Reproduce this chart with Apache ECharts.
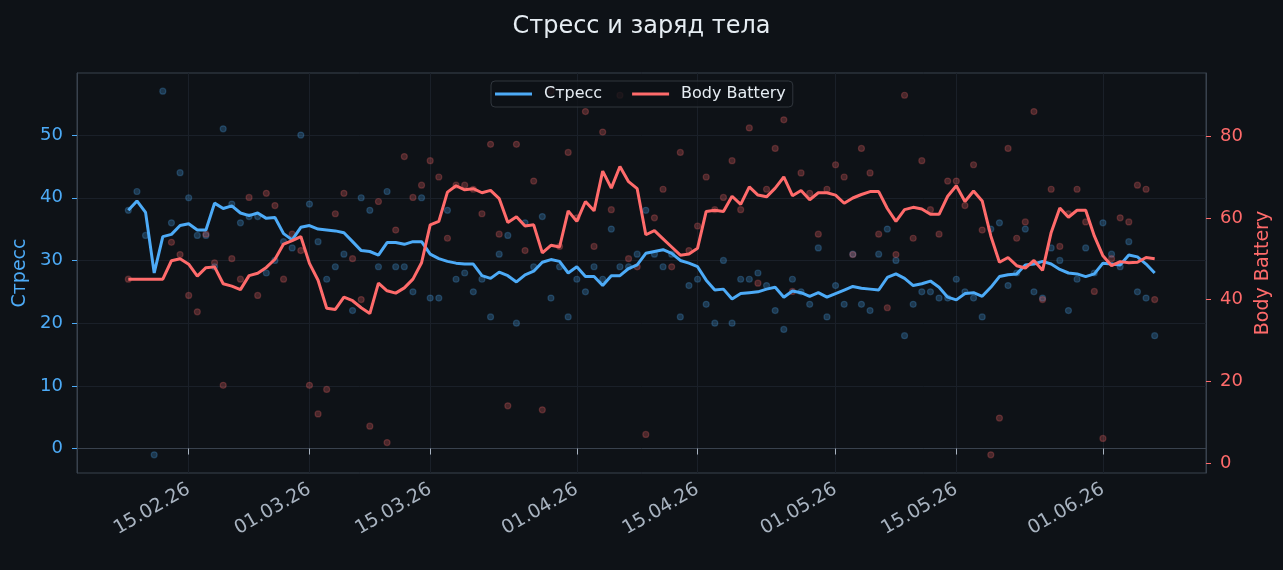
<!DOCTYPE html>
<html>
<head>
<meta charset="utf-8">
<title>Стресс и заряд тела</title>
<script src="https://cdn.jsdelivr.net/npm/echarts@6/dist/echarts.min.js"></script>
<style>
html, body { margin: 0; padding: 0; background: #0e1217; }
#chart { width: 1283px; height: 570px; }
</style>
</head>
<body>
<div id="chart"></div>
<script>
// one value per day, starting at startDate
var startDate = '2026-02-08'
var stress = [
    38, 41, 34, -1, 57, 36, 44, 40, 34, 34,
    29, 51, 39, 36, 37, 37, 28, 30, 33, 32,
    50, 39, 33, 27, 29, 31, 22, 40, 38, 29,
    41, 29, 29, 25, 40, 24, 24, 38, 27, 28,
    25, 27, 21, 31, 34, 20, 36, 29, 37, 24,
    29, 21, 27, 25, 29, 27, 35, 29, 29, 31,
    38, 31, 29, 31, 21, 26, 27, 23, 20, 30,
    20, 27, 27, 28, 26, 22, 19, 27, 25, 23,
    32, 21, 26, 23, 31, 23, 22, 31, 35, 30,
    18, 23, 25, 25, 24, 24, 27, 25, 24, 21,
    35, 36, 26, 28, 35, 25, 24, 32, 30, 22,
    27, 32, 28, 36, 31, 29, 33, 25, 24, 18
]
var bodyBattery = [
    45, null, null, null, null, 54, 51, 41, 37, 56,
    49, 19, 50, 45, 65, 41, 66, 63, 45, 56,
    52, 19, 12, 18, 61, 66, 50, 40, 9, 64,
    5, 57, 75, 65, 68, 74, 70, 55, 68, 68,
    67, 61, 78, 56, 14, 78, 52, 69, 13, 91,
    53, 76, 60, 86, 53, 81, 62, 90, 50, 48,
    7, 60, 67, 48, 76, 52, 58, 70, 62, 65,
    74, 62, 82, 44, 67, 77, 84, 42, 71, 66,
    56, 67, 73, 70, 51, 77, 71, 56, 38, 51,
    90, 55, 74, 62, 56, 69, 69, 63, 73, 57,
    2, 11, 77, 55, 59, 86, 40, 67, 53, 61,
    67, 59, 42, 6, 50, 60, 59, 68, 67, 40
]
var tickDates = ['2026-02-15', '2026-03-01', '2026-03-15', '2026-04-01', '2026-04-15', '2026-05-01', '2026-05-15', '2026-06-01']
var stressTicks = [0, 10, 20, 30, 40, 50]
var batteryTicks = [0, 20, 40, 60, 80]

var DAY = 86400000
var t0 = Date.parse(startDate + 'T00:00:00Z')
var tickTs = tickDates.map(function (d) { return Date.parse(d + 'T00:00:00Z') })

// 7-day rolling mean (min 1 value), like the smoothed lines in the picture
function rolling7(arr) {
    return arr.map(function (v, i) {
        var s = 0, n = 0
        for (var j = Math.max(0, i - 6); j <= i; j++) {
            if (arr[j] != null) { s += arr[j]; n++ }
        }
        return n ? s / n : null
    })
}
function pairs(arr) {
    var out = []
    arr.forEach(function (v, i) { if (v != null) out.push([t0 + i * DAY, v]) })
    return out
}
function pad(n) { return n < 10 ? '0' + n : '' + n }
function fmtDate(v) {
    var d = new Date(v)
    return pad(d.getUTCDate()) + '.' + pad(d.getUTCMonth() + 1) + '.' + String(d.getUTCFullYear()).slice(2)
}

var blue = '#4dabf7', red = '#ff6b6b'
var font = 'DejaVu Sans'

var option = {
    animation: false,
    backgroundColor: '#0e1217',
    textStyle: { fontFamily: font },
    title: {
        text: 'Стресс и заряд тела',
        left: 'center',
        top: 10,
        textStyle: { color: '#e6edf3', fontSize: 24, fontWeight: 'normal', fontFamily: font }
    },
    legend: {
        data: ['Стресс', 'Body Battery'],
        left: 491,
        top: 81,
        icon: 'rect',
        itemWidth: 37,
        itemHeight: 3,
        itemGap: 30,
        padding: [5, 7, 5, 4],
        backgroundColor: 'rgba(14,18,23,0.8)',
        borderColor: '#30363d',
        borderWidth: 1,
        borderRadius: 4,
        textStyle: { color: '#e6edf3', fontSize: 16, fontFamily: font, padding: [0, 0, 0, 7] }
    },
    grid: {
        left: 77, right: 77, top: 73, bottom: 97,
        show: true,
        borderColor: '#39424e',
        borderWidth: 1,
        backgroundColor: 'transparent'
    },
    xAxis: {
        type: 'value',
        min: t0 - 5.95 * DAY,
        max: t0 + 124.95 * DAY,
        axisLine: { show: true, lineStyle: { color: '#39424e' } },
        axisTick: { show: true, customValues: tickTs, length: 6, lineStyle: { color: '#a8b3c0' } },
        axisLabel: {
            customValues: tickTs,
            formatter: fmtDate,
            rotate: 30,
            margin: 15,
            color: '#a8b3c0',
            fontSize: 19,
            fontFamily: font
        },
        splitLine: { show: true, lineStyle: { color: '#1a2029', width: 1 } }
    },
    yAxis: [
        {
            type: 'value',
            min: -3.9,
            max: 59.9,
            name: 'Стресс',
            nameLocation: 'middle',
            nameRotate: 90,
            nameGap: 43,
            nameTextStyle: { color: blue, fontSize: 19, fontFamily: font },
            axisLine: { show: true, lineStyle: { color: '#39424e' } },
            axisTick: { show: true, customValues: stressTicks, length: 5, lineStyle: { color: blue } },
            axisLabel: { customValues: stressTicks, margin: 14, color: blue, fontSize: 18, fontFamily: font },
            splitLine: { show: true, lineStyle: { color: '#1a2029', width: 1 } }
        },
        {
            type: 'value',
            min: -2.45,
            max: 95.45,
            name: 'Body Battery',
            nameLocation: 'middle',
            nameRotate: 90,
            nameGap: 40,
            nameTextStyle: { color: red, fontSize: 19, fontFamily: font },
            axisLine: { show: true, lineStyle: { color: '#39424e' } },
            axisTick: { show: true, customValues: batteryTicks, length: 5, lineStyle: { color: red } },
            axisLabel: { customValues: batteryTicks, margin: 14, color: red, fontSize: 18, fontFamily: font },
            splitLine: { show: false }
        }
    ],
    series: [
        {
            name: 'Стресс (день)',
            type: 'scatter',
            yAxisIndex: 0,
            symbolSize: 6,
            data: pairs(stress),
            itemStyle: { color: 'rgba(77,171,247,0.3)', borderColor: 'rgba(77,171,247,0.3)', borderWidth: 1.2 }
        },
        {
            name: 'Стресс',
            type: 'line',
            yAxisIndex: 0,
            showSymbol: false,
            data: pairs(rolling7(stress)),
            lineStyle: { color: blue, width: 3 },
            itemStyle: { color: blue }
        },
        {
            name: 'Body Battery (день)',
            type: 'scatter',
            yAxisIndex: 1,
            symbolSize: 6,
            data: pairs(bodyBattery),
            itemStyle: { color: 'rgba(255,107,107,0.3)', borderColor: 'rgba(255,107,107,0.3)', borderWidth: 1.2 }
        },
        {
            name: 'Body Battery',
            type: 'line',
            yAxisIndex: 1,
            showSymbol: false,
            data: pairs(rolling7(bodyBattery)),
            lineStyle: { color: red, width: 3 },
            itemStyle: { color: red }
        }
    ]
}

var chart = echarts.init(document.getElementById('chart'))
chart.setOption(option)
window.addEventListener('resize', function () {
    chart.resize()
})
</script>
</body>
</html>
